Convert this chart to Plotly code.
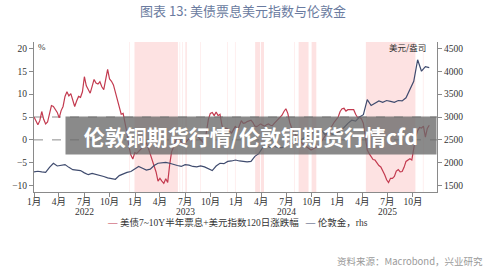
import pandas as pd
import plotly.graph_objects as go

# ---------------- data ----------------
# 美债7~10Y半年票息+美元指数120日涨跌幅 (%), weekly from 2022-01-01
red_start = "2022-01-01"
red_vals = [
    5.0, 4.3, 3.3, 4.2, 6.2, 4.5, 3.5, 3.9, 5.6, 7.5,
    7.3, 6.6, 6.0, 4.8, 6.4, 7.3, 9.5, 10.5, 9.6, 10.1,
    8.8, 7.3, 8.5, 9.5, 9.3, 10.5, 13.8, 11.8, 11.0, 10.2,
    11.7, 13.2, 12.4, 12.2, 12.7, 11.6, 11.0, 13.5, 15.4, 13.3,
    12.8, 12.0, 10.5, 9.0, 7.0, 5.6, 5.8, 3.8, 1.5, -1.5,
    -3.3, -4.2, -2.8, -3.0, -2.5, -2.2, -1.6, -1.0, -0.7, -1.8,
    -3.2, -4.6, -5.8, -7.0, -9.0, -8.4, -9.0, -9.5, -8.5, -9.3,
    -5.5, -2.6, -1.6, -0.3, 0.4, 0.1, -0.4, -0.8, -0.7, -0.2,
    0.3, 0.0, -0.4, 1.0, 1.2, 0.5, 0.1, -0.4, -1.0, 1.8,
    4.5, 5.8, 6.0, 5.3, 6.1, 5.3, 5.6, 3.2, 1.6, 2.6,
    2.4, 1.9, 1.5, 2.3, 3.0, 2.0, 3.3, 4.2, 3.6, 3.7,
    4.0, 4.1, 4.3, 3.8, 3.0, 2.9, 3.3, 3.5, 3.2, 3.0,
    3.3, 3.5, 3.2, 3.1, 3.6, 4.1, 4.5, 5.0, 5.4, 6.2,
    6.8, 5.8, 3.8, 2.6, 1.7, 1.1, 0.5, -0.2, -0.6, -1.0,
    -1.3, -1.6, -2.1, -2.2, -2.0, -1.8, -1.5, -1.2, -0.6, 0.1,
    0.8, 1.3, 1.9, 2.5, 3.2, 3.9, 4.6, 5.0, 6.2, 6.8,
    6.9, 6.3, 6.6, 6.6, 6.5, 6.6, 5.6, 4.9, 4.9, 4.6,
    3.6, 1.0, -2.2, -3.0, -3.6, -4.3, -4.4, -5.1, -5.6, -5.9,
    -6.6, -7.6, -8.7, -9.3, -8.4, -8.4, -8.0, -6.8, -6.5, -7.0,
    -6.9, -6.0, -4.7, -4.3, -4.1, -4.4, -1.8, 0.6, 2.0, 2.7,
    2.6, 3.0, 0.6, 2.5, 3.2,
]

# 伦敦金 (美元/盎司), biweekly from 2022-01-01
gold_start = "2022-01-01"
gold_vals = [
    1800, 1815, 1800, 1790, 1900, 1990, 1930, 1940, 1960, 1900,
    1850, 1840, 1830, 1780, 1740, 1770, 1750, 1720, 1700, 1670,
    1660, 1640, 1720, 1760, 1790, 1810, 1860, 1920, 1880, 1840,
    1860, 1940, 1990, 2000, 2010, 1990, 1960, 1940, 1920, 1960,
    1950, 1920, 1910, 1930, 1910, 1870, 1830, 1930, 1990, 1980,
    2030, 2040, 2060, 2040, 2030, 2020, 2030, 2140, 2200, 2330,
    2380, 2330, 2360, 2330, 2330, 2390, 2420, 2430, 2500, 2510,
    2560, 2640, 2660, 2720, 2740, 2620, 2660, 2620, 2640, 2700,
    2770, 2860, 2930, 2910, 3000, 3050, 3380, 3250, 3300, 3350,
    3320, 3360, 3340, 3320, 3360, 3350, 3420, 3600, 3780, 4250,
    4000, 4100, 4080,
]

# shaded periods (start, end)
band_starts = ["2022-12-11", "2022-12-30", "2023-06-11", "2023-06-20", "2023-07-02",
               "2023-08-25", "2023-11-30", "2023-12-28", "2024-03-10", "2024-03-31",
               "2024-07-30", "2024-08-14", "2024-09-30", "2025-04-14", "2025-11-06"]
band_ends = ["2022-12-13", "2023-06-05", "2023-06-13", "2023-06-22", "2023-07-07",
             "2023-08-27", "2023-12-02", "2023-12-30", "2024-03-28", "2024-04-11",
             "2024-08-01", "2024-09-19", "2024-10-17", "2025-10-10", "2025-11-08"]

ref_levels = [0, 5]

x_tick_dates = ["2022-01-01", "2022-04-01", "2022-07-01", "2022-10-01",
                "2023-01-01", "2023-04-01", "2023-07-01", "2023-10-01",
                "2024-01-01", "2024-04-01", "2024-07-01", "2024-10-01",
                "2025-01-01", "2025-04-01", "2025-07-01", "2025-10-01"]
x_tick_text = ["1月", "4月", "7月", "10月"] * 4
year_dates = ["2022-07-01", "2023-07-01", "2024-07-01", "2025-07-01"]
year_text = ["2022", "2023", "2024", "2025"]
left_ticks = [-10, -5, 0, 5, 10, 15, 20]
right_ticks = [1500, 2000, 2500, 3000, 3500, 4000, 4500]

red_dates = pd.date_range(red_start, periods=len(red_vals), freq="7D")
gold_dates = pd.date_range(gold_start, periods=len(gold_vals), freq="14D")

# ---------------- style ----------------
RED = "#c33a4f"
BLUE = "#3f4b6e"
PINK = "#fde2e2"
SERIF = "Liberation Serif, Noto Sans CJK SC, serif"
CJK = "Noto Sans CJK SC, sans-serif"
AX = "#8a8a8a"
TXT = "#333333"

fig = go.Figure()
fig.add_trace(go.Scatter(x=red_dates, y=red_vals, mode="lines",
                         line=dict(color=RED, width=1.2), showlegend=False, yaxis="y"))
fig.add_trace(go.Scatter(x=gold_dates, y=gold_vals, mode="lines",
                         line=dict(color=BLUE, width=1.2), showlegend=False, yaxis="y2"))

shapes = []
for s, e in zip(band_starts, band_ends):
    shapes.append(dict(type="rect", xref="x", yref="paper", x0=s, x1=e, y0=0, y1=1,
                       fillcolor=PINK, line=dict(width=0), layer="below"))
for lv in ref_levels:
    shapes.append(dict(type="line", xref="paper", yref="y", x0=0, x1=1, y0=lv, y1=lv,
                       line=dict(color="#8c8c8c", width=1, dash="dash"), layer="below"))

annotations = [
    dict(text="%", xref="paper", yref="paper", x=0.005, y=0.967, xanchor="left",
         yanchor="middle", showarrow=False, font=dict(family=SERIF, size=9, color=TXT)),
    dict(text="美元/盎司", xref="paper", yref="paper", x=0.978, y=0.967, xanchor="right",
         yanchor="middle", showarrow=False, font=dict(family=CJK, size=8.5, color=TXT)),
    dict(text=f'<span style="color:{RED}">—</span> 美债7~10Y半年票息+美元指数120日涨跌幅 '
              f'  <span style="color:{BLUE}">—</span> 伦敦金，rhs',
         xref="paper", yref="paper", x=0.177, y=-0.205, xanchor="left", yanchor="middle",
         showarrow=False, font=dict(family=SERIF, size=9.5, color=TXT)),
    dict(text="资料来源：Macrobond，兴业研究", xref="paper", yref="paper", x=1.120, y=-0.46,
         xanchor="right", yanchor="middle", showarrow=False,
         font=dict(family=CJK, size=9.5, color="#9a9a9a")),
    dict(text="<b>伦敦铜期货行情/伦敦铜期货行情cfd</b>", xref="paper", yref="paper",
         x=0.538, y=0.377, xanchor="center", yanchor="middle", showarrow=False,
         width=368, height=35, bgcolor="rgba(105,105,105,0.78)",
         font=dict(family=CJK, size=21, color="white")),
]
for d, t in zip(year_dates, year_text):
    annotations.append(dict(text=t, xref="x", yref="paper", x=d, y=-0.135,
                            xanchor="center", yanchor="middle", showarrow=False,
                            font=dict(family=SERIF, size=9.5, color=TXT)))

fig.update_layout(
    width=500, height=269, autosize=False,
    margin=dict(l=30, r=63, t=42, b=77),
    paper_bgcolor="white", plot_bgcolor="white",
    title=dict(text="图表 13: 美债票息美元指数与伦敦金", x=0.486, y=0.959,
               xanchor="center", yanchor="middle", xref="container", yref="container",
               font=dict(family=CJK, size=13, color="#6a7ba0")),
    xaxis=dict(type="date", range=["2022-01-01", "2025-12-27"],
               tickvals=x_tick_dates, ticktext=x_tick_text,
               ticks="outside", ticklen=4, tickcolor=AX, showline=True, linecolor=AX,
               showgrid=False, zeroline=False, ticklabelstandoff=-3,
               tickfont=dict(family=SERIF, size=9.5, color=TXT)),
    yaxis=dict(range=[-11.38, 21.38], tickvals=left_ticks, ticks="outside", ticklen=4,
               tickcolor=AX, showline=True, linecolor=AX, showgrid=False, zeroline=False,
               tickfont=dict(family=SERIF, size=9.5, color=TXT)),
    yaxis2=dict(range=[1362, 4638], tickvals=right_ticks, overlaying="y", side="right",
                ticks="outside", ticklen=4, tickcolor=AX, showline=True, linecolor=AX,
                showgrid=False, zeroline=False,
                tickfont=dict(family=SERIF, size=9.5, color=TXT)),
    shapes=shapes,
    annotations=annotations,
)

fig.write_html("out.html")
